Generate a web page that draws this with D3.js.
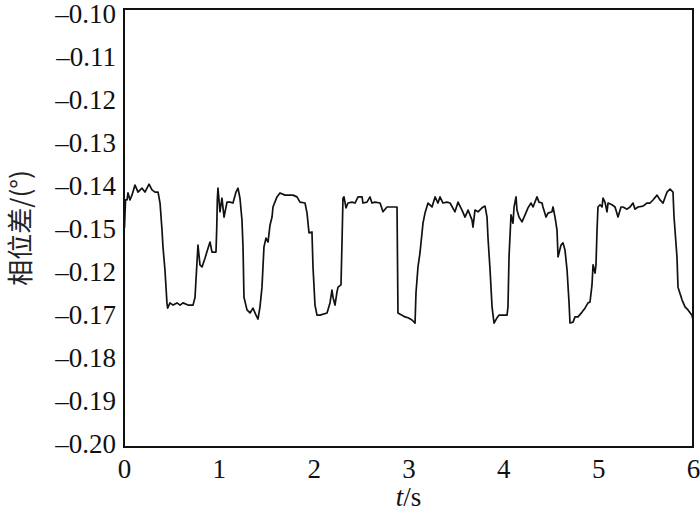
<!DOCTYPE html>
<html><head><meta charset="utf-8">
<script src="https://cdn.jsdelivr.net/npm/d3@7"></script>
<style>body{margin:0;background:#fff}svg{display:block}
svg text.serif, .serif text{font-family:"Liberation Serif","Times New Roman",Times,"Nimbus Roman","Nimbus Roman No9 L",FreeSerif,Tinos,"DejaVu Serif","Noto Serif",serif !important}</style>
</head><body><svg id="c" width="700" height="515"></svg>
<script>
const tValues = [0.005,0.016,0.032,0.042,0.063,0.084,0.116,0.148,0.190,0.221,0.264,0.295,0.327,0.359,0.380,0.401,0.411,0.432,0.453,0.460,0.485,0.517,0.559,0.591,0.622,0.675,0.728,0.749,0.759,0.780,0.801,0.823,0.854,0.886,0.907,0.928,0.949,0.970,0.978,0.984,0.991,1.012,1.033,1.055,1.086,1.118,1.149,1.181,1.202,1.223,1.244,1.255,1.265,1.297,1.329,1.360,1.392,1.413,1.434,1.455,1.476,1.497,1.519,1.540,1.561,1.571,1.613,1.645,1.698,1.782,1.824,1.856,1.909,1.930,1.951,1.982,1.993,2.014,2.035,2.067,2.141,2.172,2.193,2.204,2.225,2.246,2.257,2.288,2.299,2.309,2.320,2.341,2.362,2.404,2.436,2.468,2.510,2.520,2.562,2.594,2.615,2.647,2.700,2.731,2.773,2.826,2.879,2.884,2.889,2.932,2.963,2.995,3.037,3.069,3.079,3.100,3.121,3.153,3.174,3.206,3.248,3.280,3.311,3.332,3.364,3.406,3.438,3.490,3.522,3.564,3.596,3.628,3.670,3.680,3.701,3.733,3.775,3.807,3.828,3.838,3.860,3.881,3.902,3.933,3.954,4.039,4.049,4.060,4.081,4.102,4.113,4.134,4.144,4.165,4.197,4.229,4.260,4.292,4.313,4.355,4.376,4.408,4.418,4.450,4.471,4.513,4.524,4.545,4.566,4.577,4.608,4.629,4.650,4.672,4.693,4.703,4.735,4.756,4.787,4.830,4.861,4.893,4.914,4.935,4.946,4.967,4.977,4.988,4.998,5.020,5.041,5.051,5.072,5.093,5.104,5.146,5.178,5.209,5.241,5.262,5.304,5.336,5.367,5.389,5.420,5.473,5.515,5.547,5.578,5.621,5.652,5.684,5.726,5.758,5.789,5.800,5.831,5.842,5.884,5.916,5.947,5.989,6.000];
const phaseValues = [-0.1500,-0.1436,-0.1436,-0.1420,-0.1436,-0.1425,-0.1402,-0.1418,-0.1409,-0.1418,-0.1400,-0.1413,-0.1418,-0.1418,-0.1443,-0.1505,-0.1543,-0.1596,-0.1671,-0.1683,-0.1671,-0.1676,-0.1671,-0.1676,-0.1671,-0.1676,-0.1676,-0.1658,-0.1619,-0.1539,-0.1584,-0.1589,-0.1569,-0.1546,-0.1532,-0.1555,-0.1555,-0.1555,-0.1500,-0.1436,-0.1409,-0.1463,-0.1432,-0.1475,-0.1441,-0.1441,-0.1443,-0.1418,-0.1409,-0.1432,-0.1482,-0.1543,-0.1658,-0.1687,-0.1694,-0.1683,-0.1699,-0.1708,-0.1680,-0.1635,-0.1543,-0.1523,-0.1532,-0.1493,-0.1475,-0.1452,-0.1429,-0.1420,-0.1425,-0.1425,-0.1429,-0.1441,-0.1443,-0.1466,-0.1511,-0.1509,-0.1589,-0.1676,-0.1699,-0.1699,-0.1694,-0.1671,-0.1642,-0.1658,-0.1676,-0.1646,-0.1635,-0.1630,-0.1532,-0.1432,-0.1429,-0.1454,-0.1443,-0.1441,-0.1443,-0.1429,-0.1429,-0.1443,-0.1441,-0.1429,-0.1443,-0.1441,-0.1443,-0.1463,-0.1452,-0.1452,-0.1452,-0.1573,-0.1694,-0.1699,-0.1703,-0.1705,-0.1710,-0.1717,-0.1648,-0.1589,-0.1557,-0.1489,-0.1466,-0.1443,-0.1452,-0.1429,-0.1443,-0.1429,-0.1443,-0.1441,-0.1443,-0.1463,-0.1441,-0.1459,-0.1475,-0.1459,-0.1482,-0.1498,-0.1459,-0.1463,-0.1454,-0.1450,-0.1475,-0.1521,-0.1596,-0.1680,-0.1717,-0.1705,-0.1699,-0.1699,-0.1680,-0.1566,-0.1470,-0.1489,-0.1452,-0.1429,-0.1459,-0.1475,-0.1486,-0.1470,-0.1454,-0.1443,-0.1452,-0.1429,-0.1441,-0.1443,-0.1452,-0.1475,-0.1466,-0.1463,-0.1452,-0.1475,-0.1505,-0.1566,-0.1539,-0.1534,-0.1550,-0.1596,-0.1671,-0.1717,-0.1715,-0.1703,-0.1703,-0.1692,-0.1683,-0.1671,-0.1669,-0.1630,-0.1584,-0.1603,-0.1584,-0.1505,-0.1452,-0.1447,-0.1452,-0.1432,-0.1441,-0.1463,-0.1443,-0.1447,-0.1452,-0.1475,-0.1452,-0.1452,-0.1457,-0.1452,-0.1443,-0.1457,-0.1452,-0.1450,-0.1443,-0.1443,-0.1436,-0.1425,-0.1436,-0.1443,-0.1418,-0.1411,-0.1418,-0.1475,-0.1566,-0.1635,-0.1664,-0.1680,-0.1687,-0.1699,-0.1710];
const yTickValues = [-0.10,-0.11,-0.12,-0.13,-0.14,-0.15,-0.16,-0.17,-0.18,-0.19,-0.20];
const yTickLabels = ["–0.10","–0.11","–0.12","–0.13","–0.14","–0.15","–0.12","–0.17","–0.18","–0.19","–0.20"];
const xTickValues = [0,1,2,3,4,5,6];
const xTickLabels = ["0","1","2","3","4","5","6"];
const yTitle = "相位差/(°)";

const svg = d3.select("#c");
const W = 700, H = 515;
const m = {left:124, top:9, right:7, bottom:68};
const x = d3.scaleLinear().domain([0,6]).range([m.left, W - m.right]);
const y = d3.scaleLinear().domain([-0.20,-0.10]).range([H - m.bottom, m.top]);
// tick labels sit on a slightly tighter span than the frame
const yLab = d3.scaleLinear().domain([-0.20,-0.10]).range([H - m.bottom - 3, m.top + 5]);

// frame
svg.append("rect").attr("x", x(0)).attr("y", y(-0.10))
  .attr("width", x(6) - x(0)).attr("height", y(-0.20) - y(-0.10))
  .attr("fill","none").attr("stroke","#111").attr("stroke-width",2);

// y axis
const ya = svg.append("g").attr("transform",`translate(${x(0)},0)`)
  .call(d3.axisLeft(yLab).tickValues(yTickValues).tickSize(0).tickPadding(8)
    .tickFormat((d,i)=>yTickLabels[i]));
ya.attr("font-family",null).attr("font-size",null).attr("class","serif");
ya.select(".domain").remove();
ya.selectAll("text").attr("font-size",27).attr("fill","#111");

// x axis
const xa = svg.append("g").attr("transform",`translate(0,${y(-0.20)})`)
  .call(d3.axisBottom(x).tickValues(xTickValues).tickSize(0).tickPadding(12)
    .tickFormat((d,i)=>xTickLabels[i]));
xa.attr("font-family",null).attr("font-size",null).attr("class","serif");
xa.select(".domain").remove();
xa.selectAll("text").attr("font-size",27).attr("fill","#111");

// axis titles
const xt = svg.append("text").attr("class","serif").attr("x", x(3)).attr("y", 506)
  .attr("text-anchor","middle").attr("font-size",27).attr("fill","#111");
xt.append("tspan").attr("font-style","italic").text("t");
xt.append("tspan").text("/s");

svg.append("text").attr("transform",`translate(30,${(y(-0.10)+y(-0.20))/2}) rotate(-90)`)
  .attr("text-anchor","middle").attr("font-family","'Noto Sans CJK SC',sans-serif")
  .attr("font-size",26).attr("fill","#222").text(yTitle);

// line
const data = tValues.map((t,i)=>({t, v: phaseValues[i]}));
svg.append("path").datum(data)
  .attr("fill","none").attr("stroke","#111").attr("stroke-width",1.7)
  .attr("stroke-linejoin","round")
  .attr("d", d3.line().x(d=>x(d.t)).y(d=>y(d.v)));
</script></body></html>
